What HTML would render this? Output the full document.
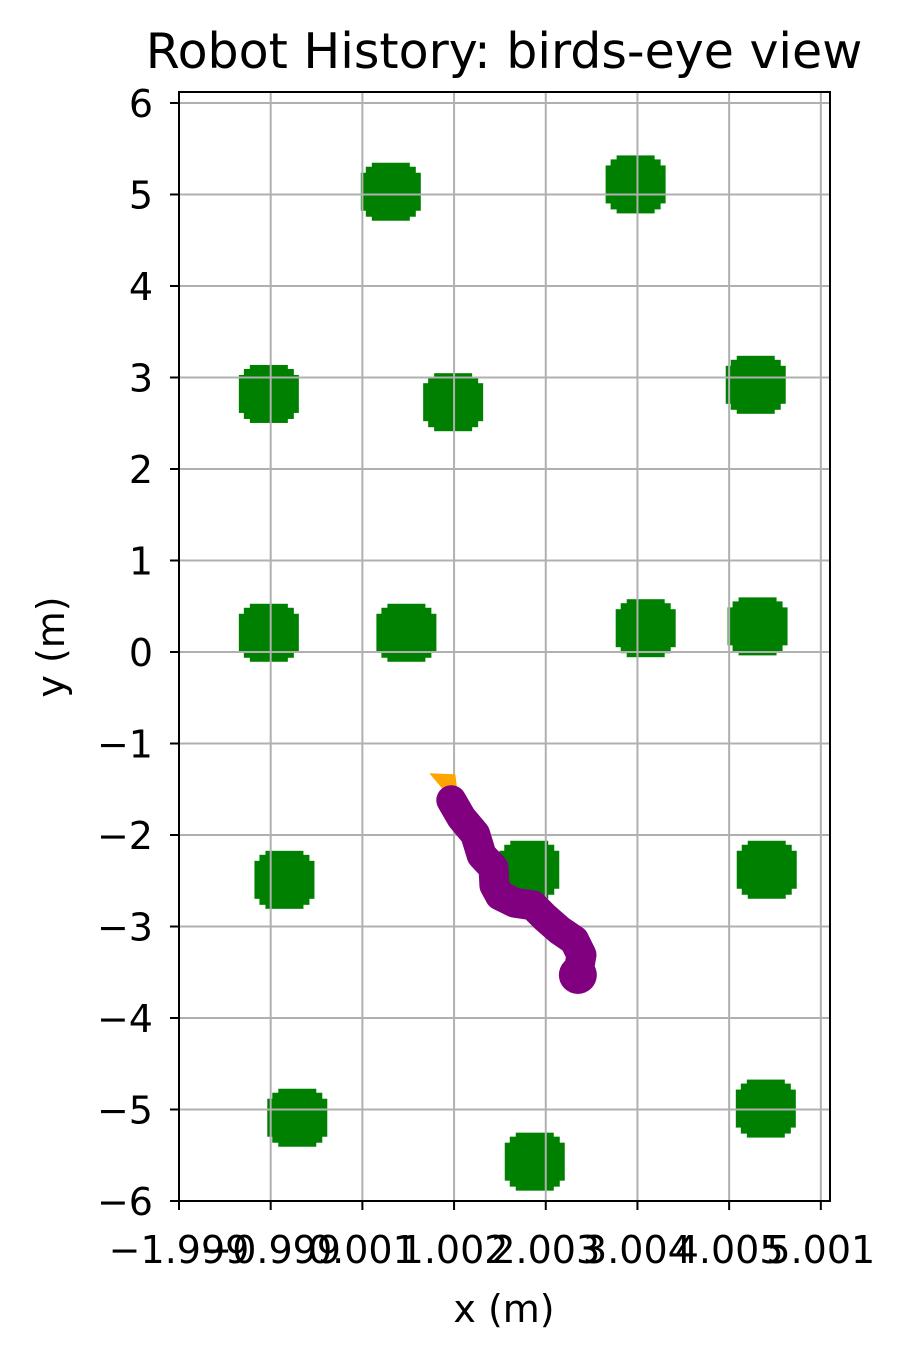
<!DOCTYPE html>
<html><head><meta charset="utf-8"><style>
body{margin:0;background:#fff}
svg text{font-family:"DejaVu Sans","Liberation Sans",sans-serif;fill:#000}
</style></head><body>
<svg id="chart" width="910" height="1361" viewBox="0 0 910 1361" xmlns="http://www.w3.org/2000/svg">
<rect width="910" height="1361" fill="#fff"/>
<text x="504" y="68" style="font-size:49px" text-anchor="middle">Robot History: birds-eye view</text>
<g id="trees"></g>
<g id="grid"></g>
<g id="path"></g>
<rect x="179" y="92" width="651" height="1109" fill="none" stroke="#000" stroke-width="2"/>
<g id="axes"></g>
<text x="504" y="1322" style="font-size:38px" text-anchor="middle">x (m)</text>
<text x="64" y="647" style="font-size:38px" text-anchor="middle" transform="rotate(-90 64 647)">y (m)</text>
</svg>
<script>
const xTicks=[-2,-1,0,1,2,3,4,5];
const xTickLabels=["\u22121.999","\u22120.999","0.001","1.002","2.003","3.004","4.005","5.001"];
const yTicks=[-6,-5,-4,-3,-2,-1,0,1,2,3,4,5,6];
const treeX=[0.31,2.98,-1.02,0.99,4.29,-1.02,0.48,3.09,4.31,-0.85,1.82,4.41,-0.71,1.88,4.40];
const treeY=[5.03,5.11,2.82,2.73,2.92,0.21,0.21,0.26,0.28,-2.49,-2.38,-2.38,-5.09,-5.57,-4.99];
const pathX=[0.97,1.08,1.23,1.30,1.43,1.44,1.50,1.66,1.86,1.99,2.15,2.31,2.39,2.35];
const pathY=[-1.62,-1.81,-1.99,-2.22,-2.36,-2.55,-2.66,-2.74,-2.77,-2.90,-3.04,-3.15,-3.31,-3.53];
const NS="http://www.w3.org/2000/svg";
const X0=179,X1=830,Y0=1201,Y1=92,xmin=-2,xmax=5.1,ymin=-6,ymax=6.12;
const sx=v=>X0+(v-xmin)/(xmax-xmin)*(X1-X0);
const sy=v=>Y0-(v-ymin)/(ymax-ymin)*(Y0-Y1);
function mk(tag,attrs,parent){const e=document.createElementNS(NS,tag);for(const k in attrs)e.setAttribute(k,attrs[k]);parent.appendChild(e);return e;}
const gT=document.getElementById('trees'),gG=document.getElementById('grid'),gP=document.getElementById('path'),gA=document.getElementById('axes');
treeX.forEach((tx,i)=>{
  const cx=sx(tx),cy=sy(treeY[i]);
  const g=mk('g',{},gT);
  
  
  mk('rect',{x:cx-30,y:cy-19,width:60,height:38,fill:'#008000'},g);
  mk('rect',{x:cx-19,y:cy-29,width:38,height:58,fill:'#008000'},g);
  mk('rect',{x:cx-25,y:cy-25,width:50,height:50,fill:'#008000'},g);
});
xTicks.forEach((t,i)=>{
  const x=sx(t);
  const l=mk('line',{x1:x,x2:x,y1:Y1,y2:Y0,stroke:'#b0b0b0','stroke-width':2},gG);
  
  
  mk('line',{x1:x,x2:x,y1:Y0,y2:Y0+9,stroke:'#000','stroke-width':2},gA);
  const tx=mk('text',{x:x,y:Y0+62,style:'font-size:38px','text-anchor':'middle'},gA);
  tx.textContent=xTickLabels[i];
  
  
});
yTicks.forEach(t=>{
  const y=sy(t);
  const l=mk('line',{x1:X0,x2:X1,y1:y,y2:y,stroke:'#b0b0b0','stroke-width':2},gG);
  
  
  mk('line',{x1:X0-9,x2:X0,y1:y,y2:y,stroke:'#000','stroke-width':2},gA);
  const tx=mk('text',{x:X0-26,y:y+14,style:'font-size:38px','text-anchor':'end'},gA);
  tx.textContent=(t<0?'\u2212':'')+Math.abs(t);
  
  
});
const ax=sx(pathX[0]),ay=sy(pathY[0]);
const arr=mk('polygon',{points:`${ax-22},${ay-27} ${ax-6},${ay-8} ${ax+6},${ay-10} ${ax+4},${ay-26}`,fill:'#ffa500'},gP);


const d=pathX.map((px,i)=>(i?'L':'M')+sx(px).toFixed(1)+','+sy(pathY[i]).toFixed(1)).join(' ');
const p=mk('path',{d:d,fill:'none',stroke:'#800080','stroke-width':30,'stroke-linecap':'round','stroke-linejoin':'round'},gP);


const n=pathX.length-1;
const c=mk('circle',{cx:sx(pathX[n]),cy:sy(pathY[n]),r:19,fill:'#800080'},gP);


</script>
</body></html>
